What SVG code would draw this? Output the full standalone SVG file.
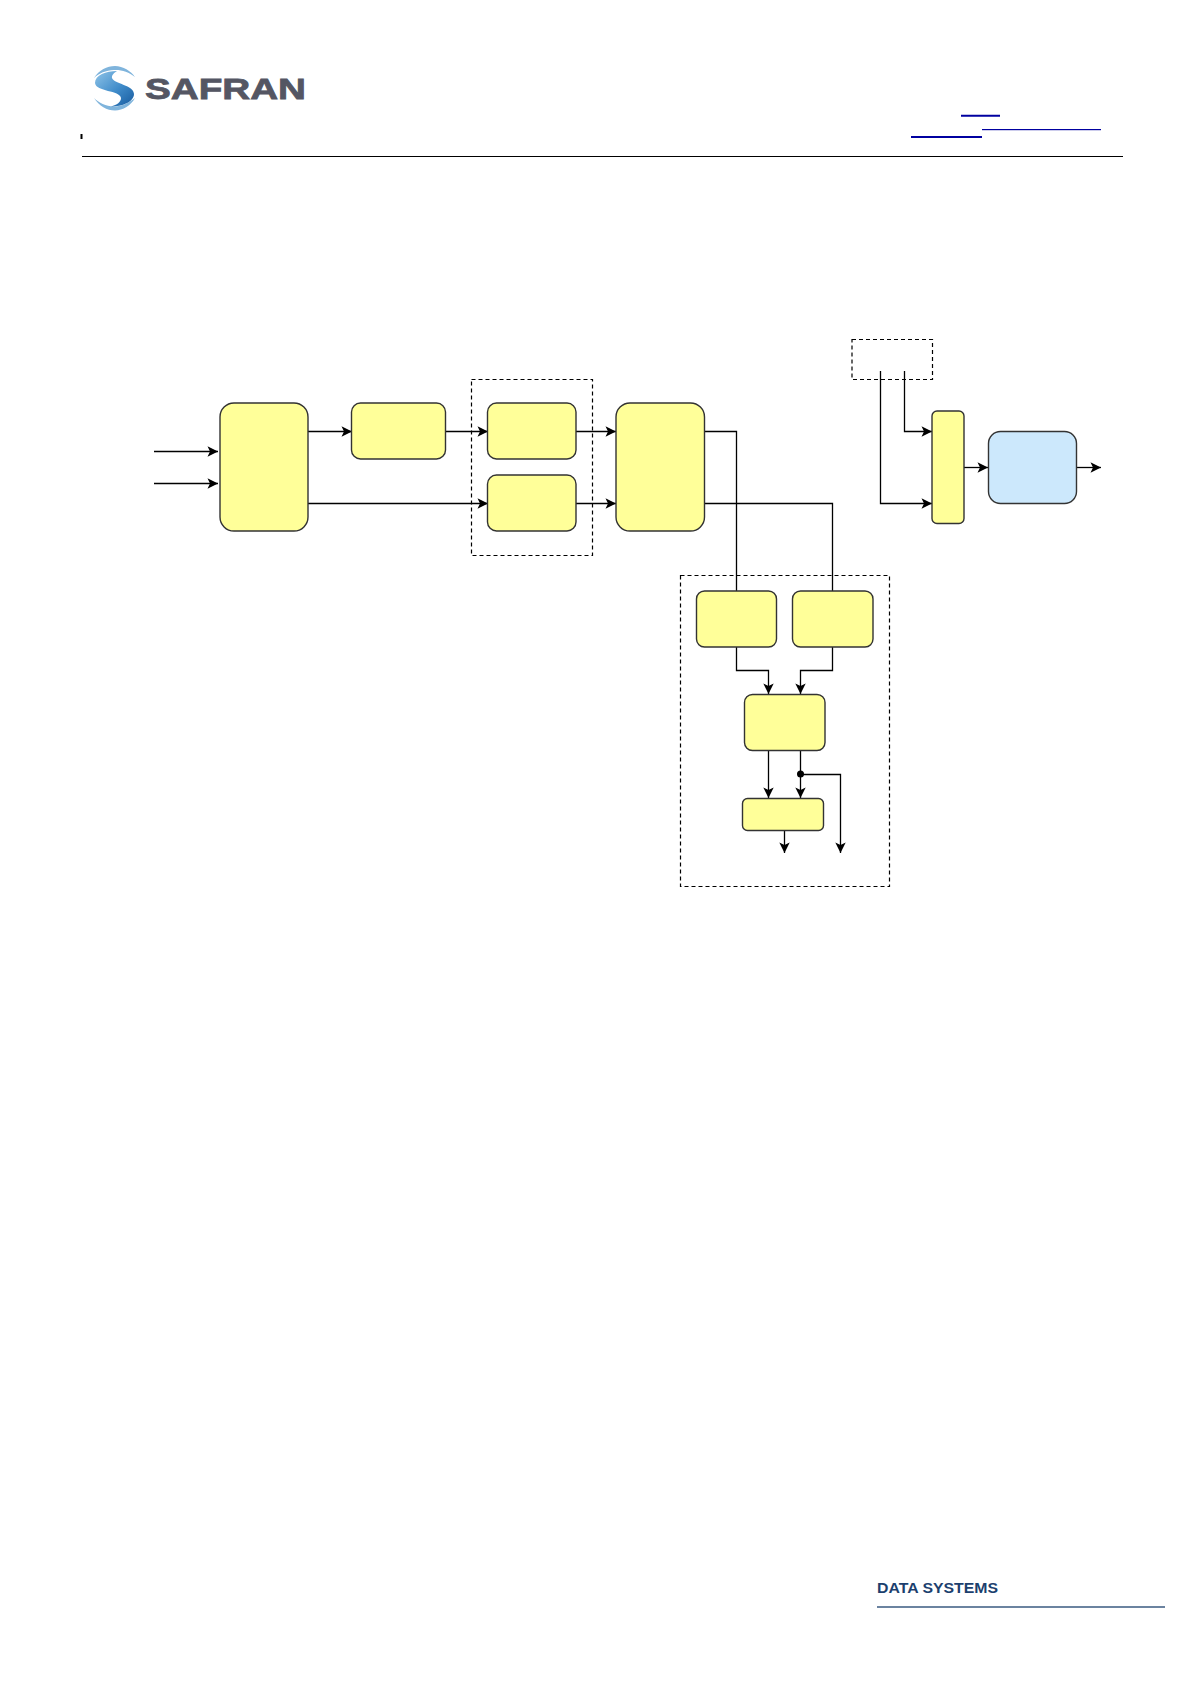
<svg xmlns="http://www.w3.org/2000/svg" width="1191" height="1684" viewBox="0 0 1191 1684">
<defs>
<marker id="arrow" markerUnits="userSpaceOnUse" markerWidth="14" markerHeight="14" refX="12" refY="7" orient="auto">
<path d="M1.500,1.800 L12,7 L1.500,12.200 L4,7 Z" fill="#000"/>
</marker>
<linearGradient id="swirl" x1="0" y1="0" x2="1" y2="1">
<stop offset="0" stop-color="#8fc4e8"/><stop offset="0.55" stop-color="#3f8bc9"/><stop offset="1" stop-color="#175a9e"/>
</linearGradient>
</defs>
<style>
.n{fill:#ffff99;stroke:#333;stroke-width:1.400}
.b{fill:#cce8fc;stroke:#333;stroke-width:1.400}
.d{fill:none;stroke:#000;stroke-width:1.200;stroke-dasharray:4 3}
.c{fill:none;stroke:#000;stroke-width:1.300}
.a{marker-end:url(#arrow)}
.l{stroke:#0000a0}
</style>
<rect width="1191" height="1684" fill="#fff"/>
<g id="header">
<g id="logo">
<path d="M94,78 C99,70 107,66 115,66 C123,66 131,71 135,77 C129,72 121,69.500 114,70 C106,70.500 99,73 94,78 Z" fill="#7fb4dc"/>
<path d="M94,98 C99,106 107,110.500 115,110.500 C123,110.500 131,105.500 135,98 C129,103 122,106 115,106.500 C107,107 99,103 94,98 Z" fill="#7fb4dc"/>
<path d="M117,71 C106,71 95,75 95,83 C96,92 120,90 121,98 C121,102 117,105 111,106.500 C122,106.500 134,102 134,94 C134,85 114,84 112,78 C111.500,75 114,73 117,71 Z" fill="url(#swirl)"/>
<text x="145" y="99.300" font-family="'Liberation Sans',Arial,sans-serif" font-size="30" font-weight="700" fill="#545663" stroke="#545663" stroke-width="0.800" textLength="161" lengthAdjust="spacingAndGlyphs">SAFRAN</text>
</g>
<rect x="80.500" y="134" width="2" height="5" fill="#000"/>
<line x1="82" y1="156.500" x2="1123" y2="156.500" stroke="#000" stroke-width="1.200"/>
<line class="l" x1="961" y1="115.800" x2="1000" y2="115.800" stroke-width="2"/>
<rect x="982" y="129" width="119" height="1.200" fill="#0000a0"/>
<line class="l" x1="911" y1="137" x2="982" y2="137" stroke-width="2"/>
</g>
<g id="groups">
<rect id="group-a" class="d" x="471.500" y="379.500" width="121" height="176"/>
<rect id="group-b" class="d" x="852" y="339.500" width="80.500" height="40"/>
<rect id="group-c" class="d" x="680.500" y="575.500" width="209" height="311"/>
</g>
<g id="connectors">
<path class="c a" d="M154,451.500H218"/>
<path class="c a" d="M154,483.500H218"/>
<path class="c a" d="M308,431.500H352"/>
<path class="c a" d="M446,431.500H488"/>
<path class="c a" d="M308,503.500H488"/>
<path class="c a" d="M576,431.500H616"/>
<path class="c a" d="M576,503.500H616"/>
<path class="c" d="M705,431.500H736.500V591"/>
<path class="c" d="M705,503.500H832.500V591"/>
<path class="c a" d="M736.500,647V670.500H768.500V694"/>
<path class="c a" d="M832.500,647V670.500H800.500V694"/>
<path class="c a" d="M768.500,750V798"/>
<path class="c a" d="M800.500,750V798"/>
<path class="c a" d="M800.500,774.500H840.500V853"/>
<path class="c a" d="M784.500,830V853"/>
<path class="c a" d="M904.500,371V431.500H932"/>
<path class="c a" d="M880.500,371V503.500H932"/>
<path class="c a" d="M964,467.500H988"/>
<path class="c a" d="M1077,467.500H1101"/>
<circle cx="800.500" cy="774" r="3.500" fill="#000"/>
</g>
<g id="node-1"><rect class="n" x="220" y="403" width="88" height="128" rx="14"/></g>
<g id="node-2"><rect class="n" x="351.500" y="403" width="94" height="56" rx="9"/></g>
<g id="node-3"><rect class="n" x="487.500" y="403" width="88.500" height="56" rx="9"/></g>
<g id="node-4"><rect class="n" x="487.500" y="475" width="88.500" height="56" rx="9"/></g>
<g id="node-5"><rect class="n" x="616" y="403" width="88.500" height="128" rx="14"/></g>
<g id="node-6"><rect class="n" x="696.500" y="591" width="80" height="56" rx="8"/></g>
<g id="node-7"><rect class="n" x="792.500" y="591" width="80.500" height="56" rx="8"/></g>
<g id="node-8"><rect class="n" x="744.500" y="694.500" width="80.500" height="56" rx="8"/></g>
<g id="node-9"><rect class="n" x="742.500" y="798.500" width="81" height="32" rx="5"/></g>
<g id="node-10"><rect class="n" x="932" y="411" width="32" height="112.500" rx="5"/></g>
<g id="node-11"><rect class="b" x="988.500" y="431.500" width="88" height="72" rx="12"/></g>
<g id="footer">
<text x="877" y="1593.300" font-family="'Liberation Sans',Arial,sans-serif" font-size="14" font-weight="700" fill="#1c3f6e" textLength="121" lengthAdjust="spacingAndGlyphs">DATA SYSTEMS</text>
<line x1="877" y1="1607" x2="1165" y2="1607" stroke="#3a5a80" stroke-width="1.300"/>
</g>
</svg>
